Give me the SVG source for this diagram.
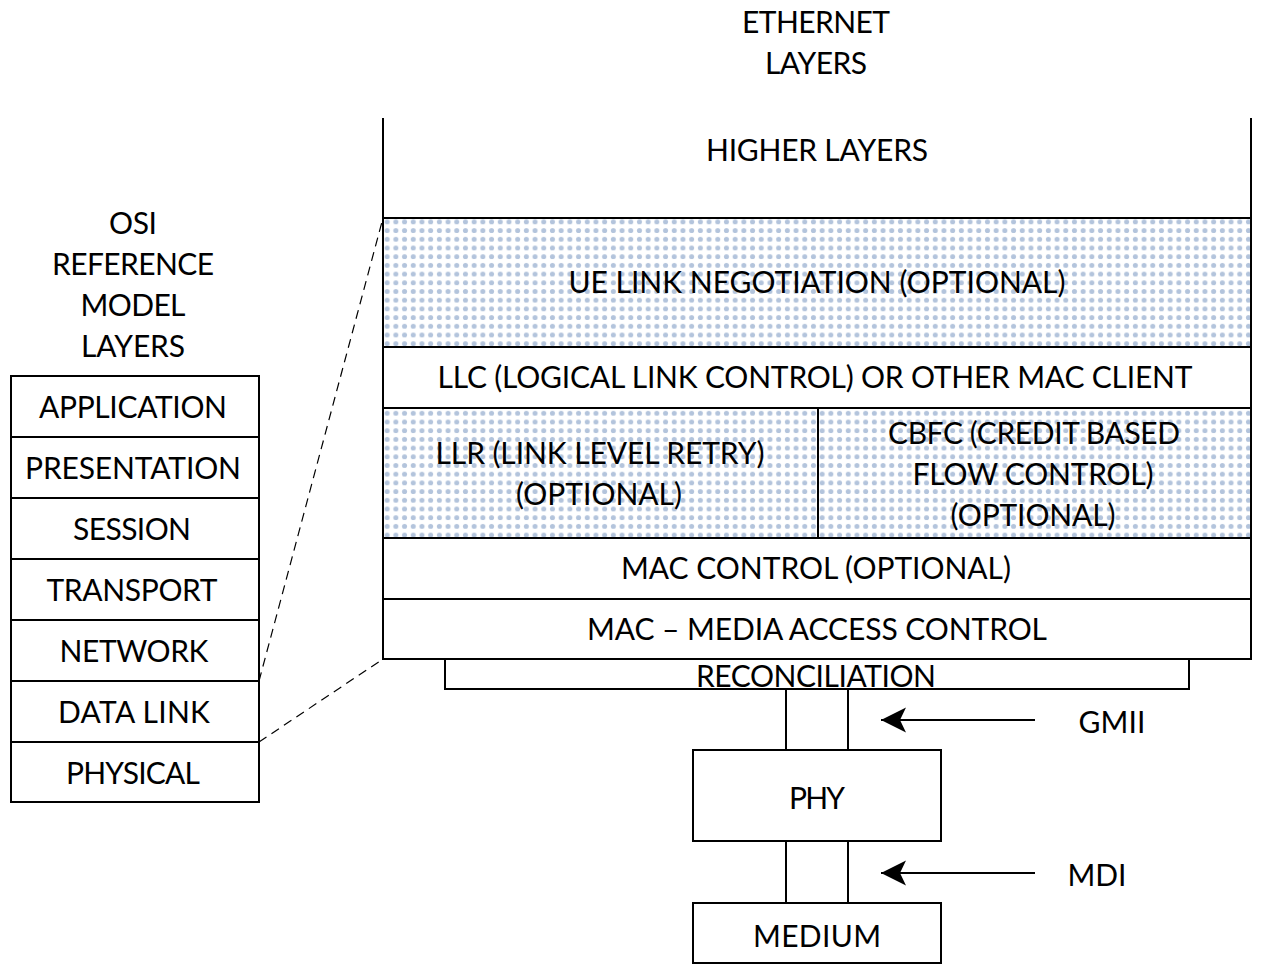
<svg xmlns="http://www.w3.org/2000/svg" width="1264" height="976" viewBox="0 0 1264 976">
<style>
text{font-family:Lato,"Open Sans","Liberation Sans",sans-serif;font-size:30px;fill:#000;text-anchor:middle}
.b{fill:#fff;stroke:#000;stroke-width:2}
.d{fill:url(#dots);stroke:#000;stroke-width:2}
.l{stroke:#000;stroke-width:2;fill:none}
.dash{stroke:#000;stroke-width:1.2;fill:none;stroke-dasharray:9 6}
</style>
<defs>
<pattern id="dots" width="8.7" height="8.7" patternUnits="userSpaceOnUse">
<rect width="8.7" height="8.7" fill="#fff"/>
<circle cx="4.35" cy="4.35" r="2.5" fill="#b3c4dc"/>
</pattern>
<marker id="ah" markerUnits="userSpaceOnUse" markerWidth="26" markerHeight="26" refX="25" refY="13" orient="auto">
<path d="M25,13 L0,0.5 L6,13 L0,25.5 Z" fill="#000"/>
</marker>
</defs>
<rect width="1264" height="976" fill="#fff"/>

<g id="title-ethernet">
<text x="816" y="33" textLength="148">ETHERNET</text>
<text x="816" y="74" textLength="102">LAYERS</text>
</g>
<g id="title-osi">
<text x="133" y="234" textLength="48">OSI</text>
<text x="133" y="275" textLength="162">REFERENCE</text>
<text x="133" y="316" textLength="105">MODEL</text>
<text x="133" y="357" textLength="104">LAYERS</text>
</g>

<g id="higher-layers">
<path class="l" d="M383,118 V218 M1251,118 V218"/>
<text x="817" y="161" textLength="222">HIGHER LAYERS</text>
</g>
<g id="ue-link">
<rect class="d" x="383" y="218" width="868" height="129"/>
<text x="817" y="293" textLength="497">UE LINK NEGOTIATION (OPTIONAL)</text>
</g>
<g id="llc">
<rect class="b" x="383" y="347" width="868" height="61"/>
<text x="815" y="388" textLength="755">LLC (LOGICAL LINK CONTROL) OR OTHER MAC CLIENT</text>
</g>
<g id="llr">
<rect class="d" x="383" y="408" width="435" height="130"/>
<text x="600" y="464" textLength="329">LLR (LINK LEVEL RETRY)</text>
<text x="599" y="505" textLength="166">(OPTIONAL)</text>
</g>
<g id="cbfc">
<rect class="d" x="818" y="408" width="433" height="130"/>
<text x="1034" y="444" textLength="292">CBFC (CREDIT BASED</text>
<text x="1033" y="485" textLength="241">FLOW CONTROL)</text>
<text x="1033" y="526" textLength="165">(OPTIONAL)</text>
</g>
<g id="mac-control">
<rect class="b" x="383" y="538" width="868" height="61"/>
<text x="816" y="579" textLength="390">MAC CONTROL (OPTIONAL)</text>
</g>
<g id="mac">
<rect class="b" x="383" y="599" width="868" height="60"/>
<text x="817" y="640" textLength="460">MAC – MEDIA ACCESS CONTROL</text>
</g>
<g id="reconciliation">
<path class="l" d="M445,659 V689 H1189 V659"/>
<text x="816" y="687" textLength="240">RECONCILIATION</text>
</g>
<g id="phy">
<rect class="b" x="693" y="750" width="248" height="91"/>
<text x="817" y="809" textLength="56">PHY</text>
</g>
<g id="medium">
<rect class="b" x="693" y="903" width="248" height="60"/>
<text x="817" y="947" textLength="128">MEDIUM</text>
</g>
<g id="gmii-label">
<text x="1112" y="733" textLength="67">GMII</text>
</g>
<g id="mdi-label">
<text x="1097" y="886" textLength="59">MDI</text>
</g>

<g id="osi-stack">
<rect class="b" x="11" y="376" width="248" height="61"/>
<text x="133" y="418" textLength="188">APPLICATION</text>
<rect class="b" x="11" y="437" width="248" height="61"/>
<text x="133" y="479" textLength="216">PRESENTATION</text>
<rect class="b" x="11" y="498" width="248" height="61"/>
<text x="132" y="540" textLength="118">SESSION</text>
<rect class="b" x="11" y="559" width="248" height="61"/>
<text x="132" y="601" textLength="171">TRANSPORT</text>
<rect class="b" x="11" y="620" width="248" height="61"/>
<text x="134" y="662" textLength="149">NETWORK</text>
<rect class="b" x="11" y="681" width="248" height="61"/>
<text x="134" y="723" textLength="152">DATA LINK</text>
<rect class="b" x="11" y="742" width="248" height="60"/>
<text x="133" y="784" textLength="134">PHYSICAL</text>
</g>

<g id="connectors">
<line class="dash" x1="259" y1="681" x2="383" y2="218"/>
<line class="dash" x1="259" y1="742" x2="383" y2="659"/>
<path class="l" d="M786,689 V750 M848,689 V750"/>
<path class="l" d="M786,841 V903 M848,841 V903"/>
<line class="l" x1="1035" y1="720" x2="881" y2="720" marker-end="url(#ah)"/>
<line class="l" x1="1035" y1="873" x2="881" y2="873" marker-end="url(#ah)"/>
</g>
</svg>
